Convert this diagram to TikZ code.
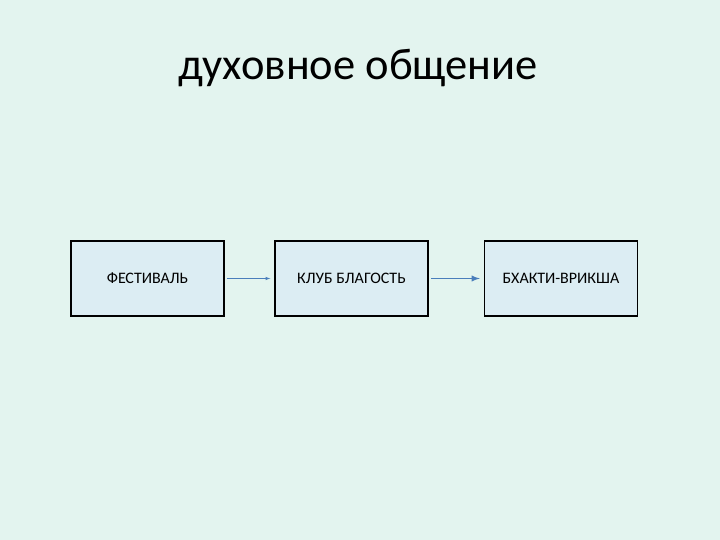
\documentclass[tikz,border=0pt]{standalone}
\usepackage{fontspec}
\setmainfont{Carlito}
\definecolor{bg}{HTML}{E3F4EF}
\definecolor{boxfill}{HTML}{DCEDF3}
\definecolor{arr}{HTML}{4A7EBB}
\begin{document}
\begin{tikzpicture}[x=1pt,y=-1pt,
  stepbox/.style={draw=black,line width=1.5pt,fill=boxfill,minimum width=153pt,minimum height=75pt,inner sep=0pt,font=\fontsize{16}{18}\selectfont},
  conn/.style={draw=arr,-latex}]
\fill[bg] (0,0) rectangle (720,540);
\useasboundingbox (0,0) rectangle (720,540);
\node (title) at (358,68) {\fontsize{44.5}{50}\selectfont духовное общение};
\node[stepbox] (a) at (147.5,278.5) {ФЕСТИВАЛЬ};
\node[stepbox] (b) at (351.5,278.5) {КЛУБ БЛАГОСТЬ};
\node[stepbox] (c) at (561,278.5) {БХАКТИ-ВРИКША};
\draw[conn,line width=0.6pt] ([xshift=2pt]a.east) -- ([xshift=-4pt]b.west);
\draw[conn,line width=1.8pt] ([xshift=2pt]b.east) -- ([xshift=-4pt]c.west);
\end{tikzpicture}
\end{document}
